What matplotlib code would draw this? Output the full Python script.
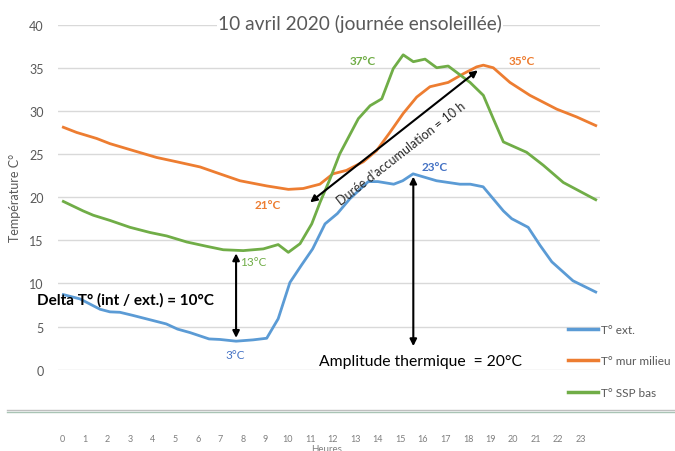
import numpy as np
import matplotlib.pyplot as plt

plt.rcParams['font.family'] = ['Lato', 'DejaVu Sans']

# heures et températures
h_ext = [0.03, 0.77, 1.66, 2.1, 2.54, 3.1, 4.0, 4.6, 5.1, 5.65, 6.5, 6.98, 7.7, 8.45, 9.06,
         9.57, 10.09, 10.6, 11.1, 11.65, 12.2, 12.75, 13.57, 14.0, 14.7, 15.1, 15.56, 16.6,
         17.64, 18.1, 18.67, 19.57, 19.94, 20.67, 21.2, 21.72, 22.66, 23.67]
t_ext = [8.7, 8.2, 7.0, 6.7, 6.65, 6.3, 5.7, 5.3, 4.7, 4.3, 3.56, 3.5, 3.3, 3.45, 3.64,
         5.9, 10.1, 12.1, 14.0, 16.9, 18.1, 19.8, 21.8, 21.8, 21.5, 21.9, 22.7, 21.9,
         21.5, 21.5, 21.2, 18.4, 17.5, 16.5, 14.4, 12.5, 10.3, 9.0]

h_mur = [0.03, 0.62, 1.51, 2.1, 3.13, 4.17, 5.06, 6.1, 6.98, 7.87, 9.06, 10.02, 10.68, 11.42,
         12.0, 12.6, 13.35, 13.94, 14.53, 15.12, 15.72, 16.31, 17.12, 17.79, 18.38, 18.68,
         19.12, 19.86, 20.75, 21.94, 22.82, 23.67]
t_mur = [28.1, 27.5, 26.8, 26.2, 25.4, 24.6, 24.1, 23.5, 22.7, 21.9, 21.3, 20.9, 21.0, 21.5,
         22.7, 23.1, 24.1, 25.4, 27.5, 29.7, 31.6, 32.8, 33.3, 34.3, 35.1, 35.3,
         35.0, 33.3, 31.8, 30.2, 29.3, 28.3]

h_ssp = [0.03, 0.91, 1.36, 2.1, 2.99, 3.88, 4.62, 5.51, 6.39, 7.13, 8.02, 8.91, 9.57, 10.02,
         10.54, 11.06, 11.43, 11.87, 12.3, 13.13, 13.65, 14.17, 14.68, 15.12, 15.57, 16.09,
         16.61, 17.12, 18.09, 18.68, 19.12, 19.57, 20.6, 21.34, 22.23, 23.67]
t_ssp = [19.5, 18.4, 17.9, 17.3, 16.5, 15.9, 15.5, 14.8, 14.3, 13.9, 13.8, 14.0, 14.5, 13.6,
         14.6, 16.9, 19.4, 22.1, 25.0, 29.1, 30.6, 31.4, 34.9, 36.5, 35.7, 36.0,
         35.0, 35.2, 33.3, 31.8, 29.1, 26.4, 25.2, 23.7, 21.7, 19.7]

heures = list(range(24))
yticks = [0, 5, 10, 15, 20, 25, 30, 35, 40]

bleu = '#5B9BD5'
orange = '#ED7D31'
vert = '#70AD47'
gris = '#595959'

fig = plt.figure(figsize=(6.75, 4.52), dpi=100)
ax = fig.add_axes([0.0855, 0.18, 0.8034, 0.7633])

ax.plot(h_ext, t_ext, color=bleu, lw=2, label='T° ext.', clip_on=False)
ax.plot(h_mur, t_mur, color=orange, lw=2, label='T° mur milieu', clip_on=False)
ax.plot(h_ssp, t_ssp, color=vert, lw=2, label='T° SSP bas', clip_on=False)

ax.set_xlim(-0.22, 23.86)
ax.set_ylim(0, 40)
ax.set_yticks(yticks)
ax.set_xticks(heures)
ax.grid(axis='y', color='#D9D9D9', lw=1)
ax.set_axisbelow(True)
for s in ax.spines.values():
    s.set_visible(False)
ax.tick_params(axis='y', length=0, pad=10, labelsize=9, labelcolor=gris)
ax.tick_params(axis='x', length=0, pad=46.5, labelsize=6.5, labelcolor='#7f7f7f')
ax.set_ylabel('Température C°', fontsize=9, color=gris, labelpad=6)

# titre posé sur la ligne des 40
fig.text(360 / 675, 1 - 24 / 452, '10 avril 2020 (journée ensoleillée)', fontsize=13.8,
         color=gris, ha='center', va='center',
         bbox=dict(facecolor='white', edgecolor='none', pad=1))

# ligne horizontale sous le graphique
fig.add_artist(plt.Line2D([0.01, 1], [1 - 410.5 / 452] * 2, color='#BFBFBF', lw=1))
fig.add_artist(plt.Line2D([0.01, 1], [1 - 412.5 / 452] * 2, color='#A9C4B5', lw=1))
fig.text(327 / 675, 1 - 445 / 452, 'Heures', ha='center', va='top', fontsize=7, color='#7f7f7f')

leg = fig.legend(loc='upper left', bbox_to_anchor=(563 / 675, 1 - 320 / 452), frameon=False,
                 fontsize=8.5, handlelength=2.6, labelspacing=1.75, handletextpad=0.2,
                 borderaxespad=0)
for t in leg.get_texts():
    t.set_color(gris)
for l in leg.get_lines():
    l.set_linewidth(2.5)

# annotations
ax.text(9.1, 19.2, '21°C', color=orange, fontsize=8.5, fontweight='bold', ha='center', va='center')
ax.text(13.33, 35.8, '37°C', color=vert, fontsize=8.5, fontweight='bold', ha='center', va='center')
ax.text(20.4, 35.8, '35°C', color=orange, fontsize=8.5, fontweight='bold', ha='center', va='center')
ax.text(16.5, 23.5, '23°C', color='#4472C4', fontsize=8.5, fontweight='bold', ha='center', va='center')
ax.text(8.45, 12.5, '13°C', color=vert, fontsize=8.5, ha='center', va='center')
ax.text(7.65, 1.8, '3°C', color='#4472C4', fontsize=8.5, ha='center', va='center')
ax.text(-1.15, 8.2, 'Delta T° (int / ext.) = 10°C', fontsize=11, fontweight='bold',
        ha='left', va='center', clip_on=False)
ax.text(11.4, 1.05, 'Amplitude thermique  = 20°C', fontsize=11.3, ha='left', va='center')

ax.annotate('', xy=(7.7, 13.8), xytext=(7.7, 3.36),
            arrowprops=dict(arrowstyle='<|-|>', color='black', lw=1.5, mutation_scale=10))
ax.annotate('', xy=(15.57, 22.7), xytext=(15.57, 2.4),
            arrowprops=dict(arrowstyle='<|-|>', color='black', lw=1.5, mutation_scale=10))
ax.annotate('', xy=(18.53, 34.9), xytext=(10.89, 19.2),
            arrowprops=dict(arrowstyle='<|-|>', color='black', lw=1.5, mutation_scale=10))
ax.text(15.05, 25.1, 'Durée d’accumulation = 10 h', fontsize=9, color='#262626',
        rotation=38, ha='center', va='center', rotation_mode='anchor')

fig.savefig('out.png', dpi=100)
